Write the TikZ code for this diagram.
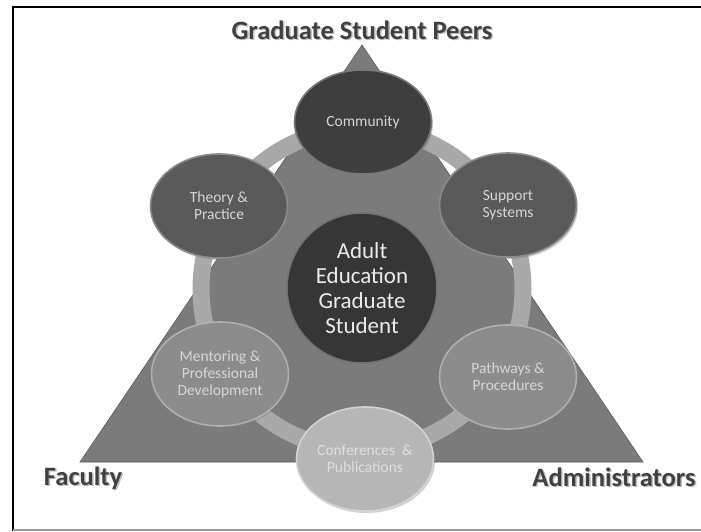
\documentclass[tikz,border=0pt]{standalone}
\usepackage{fontspec}
\setmainfont{Carlito}
\usetikzlibrary{shapes.geometric,shadows}
\definecolor{trifill}{HTML}{7B7B7B}
\definecolor{ringcol}{HTML}{A9A9A9}
\definecolor{darkest}{HTML}{363636}
\definecolor{darkc}{HTML}{3E3E3E}
\definecolor{midc}{HTML}{5A5A5A}
\definecolor{lightc}{HTML}{8C8C8C}
\definecolor{palec}{HTML}{B6B6B6}
\definecolor{labelc}{HTML}{404040}
\definecolor{txtc}{HTML}{D6D6D6}
\tikzset{
  sat/.style={ellipse, minimum width=137pt, minimum height=104pt, inner sep=0pt,
    align=center, text=txtc, font=\fontsize{15.5}{17}\selectfont,
    line width=1.6pt, drop shadow={opacity=0.35, shadow xshift=1.5pt, shadow yshift=-2pt}},
  centre/.style={circle, minimum size=150pt, inner sep=0pt, align=center,
    text=white!92!black, font=\fontsize{23}{25}\selectfont, fill=darkest,
    draw=darkest!70!white, line width=1.6pt,
    drop shadow={opacity=0.35, shadow xshift=1.5pt, shadow yshift=-2pt}},
  biglabel/.style={font=\fontsize{26.5}{30}\selectfont\bfseries, text=labelc, inner sep=0pt},
  shadowlabel/.style={font=\fontsize{26.5}{30}\selectfont\bfseries, text=black!25, inner sep=0pt}
}
\begin{document}
\begin{tikzpicture}[x=1pt,y=-1pt]
\useasboundingbox (0,0) rectangle (701,531);
\fill[white] (0,0) rectangle (701,531);
% frame
\draw[line width=2.5pt] (12.4,7) -- (701,7);
\draw[line width=1.2pt] (13,6) -- (13,531);
\draw[black!40, line width=1.2pt] (13,530) -- (701,530);
% triangle
\coordinate (apex) at (362,45);
\coordinate (bl) at (80,462);
\coordinate (br) at (643,462);
\filldraw[fill=trifill, draw=black!65, line width=0.6pt] (apex) -- (bl) -- (br) -- cycle;
% ring
\coordinate (O) at (362,289);
\draw[ringcol, line width=17pt] (O) circle[radius=161];
% centre
\node[centre] (core) at (362,288) {Adult\\Education\\Graduate\\Student};
% satellites
\node[sat, fill=darkc, draw=darkc!70!white] (comm) at (363,122) {Community};
\node[sat, fill=midc, draw=midc!70!white] (supp) at (508,205) {Support\\Systems};
\node[sat, fill=lightc, draw=lightc!70!white] (path) at (508,377) {Pathways \&\\Procedures};
\node[sat, fill=palec, draw=palec!60!white, text=white!88!black] (conf) at (365,459) {Conferences~~\&\\Publications};
\node[sat, fill=lightc, draw=lightc!70!white] (ment) at (220,374) {Mentoring \&\\Professional\\Development};
\node[sat, fill=midc, draw=midc!70!white] (theo) at (219,206) {Theory \&\\Practice};
% labels
\node[shadowlabel] at (363.5,31.5) {Graduate Student Peers};
\node[biglabel] (peers) at (362,30) {Graduate Student Peers};
\node[shadowlabel] at (84.5,479.5) {Faculty};
\node[biglabel] (fac) at (83,478) {Faculty};
\node[shadowlabel] at (615.5,478.5) {Administrators};
\node[biglabel] (adm) at (614,477) {Administrators};
\end{tikzpicture}
\end{document}
